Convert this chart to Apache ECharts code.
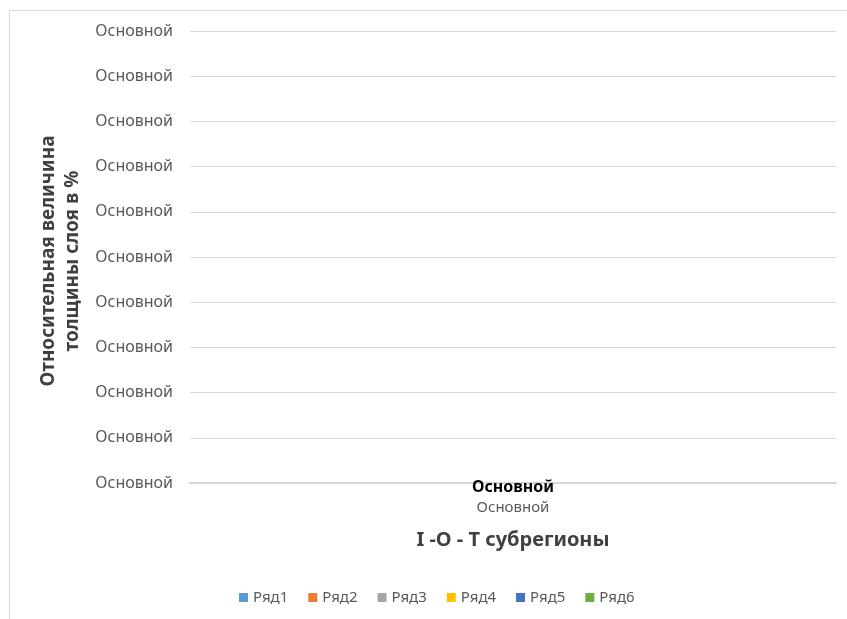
<!DOCTYPE html>
<html>
<head>
<meta charset="utf-8">
<script src="https://cdn.jsdelivr.net/npm/echarts@6/dist/echarts.min.js"></script>
<style>html,body{margin:0;padding:0;background:#fff}#c{width:847px;height:619px}</style>
</head>
<body>
<div id="c"></div>
<script>
var categories = ['Основной'];
var categorySubLabels = ['Основной'];
var yTickLabels = ['Основной','Основной','Основной','Основной','Основной','Основной','Основной','Основной','Основной','Основной','Основной'];
var seriesNames = ['Ряд1','Ряд2','Ряд3','Ряд4','Ряд5','Ряд6'];
var seriesColors = ['#5B9BD5','#ED7D31','#A5A5A5','#FFC000','#4472C4','#70AD47'];
var ряд1 = [null];
var ряд2 = [null];
var ряд3 = [null];
var ряд4 = [null];
var ряд5 = [null];
var ряд6 = [null];
var seriesValues = [ряд1, ряд2, ряд3, ряд4, ряд5, ряд6];

var FONT = '"Noto Sans", "Open Sans", sans-serif';
var chart = echarts.init(document.getElementById('c'), null, {renderer: 'canvas'});
chart.setOption({
  animation: false,
  color: seriesColors,
  textStyle: {fontFamily: FONT},
  graphic: [
    {type: 'line', shape: {x1: 9.5, y1: 10.5, x2: 847, y2: 10.5}, style: {stroke: '#d9d9d9', lineWidth: 1}},
    {type: 'line', shape: {x1: 9.5, y1: 10.5, x2: 9.5, y2: 619}, style: {stroke: '#d9d9d9', lineWidth: 1}}
  ],
  grid: {left: 190, right: 11, top: 31, bottom: 136, containLabel: false},
  legend: {
    data: seriesNames,
    left: 239, top: 590, padding: 0,
    icon: 'rect', itemWidth: 9, itemHeight: 9, itemGap: 20,
    textStyle: {fontSize: 15, color: '#595959', fontFamily: FONT}
  },
  xAxis: {
    type: 'category',
    data: categories,
    name: 'I -O - T субрегионы',
    nameLocation: 'middle',
    nameGap: 47,
    nameTextStyle: {fontSize: 20, fontWeight: 'bold', color: '#404040', fontFamily: FONT},
    axisLine: {show: true, lineStyle: {color: '#d6d6d6', width: 2}},
    axisTick: {show: false},
    axisLabel: {
      margin: -6,
      formatter: function (v, i) { return '{a|' + v + '}\n{b|' + categorySubLabels[i] + '}'; },
      rich: {
        a: {fontSize: 16, fontWeight: 'bold', color: '#000', lineHeight: 20, fontFamily: FONT},
        b: {fontSize: 15, color: '#595959', lineHeight: 21, fontFamily: FONT}
      }
    }
  },
  yAxis: {
    type: 'value',
    min: 0, max: 10, interval: 1,
    name: 'Относительная величина\nтолщины слоя в %',
    nameLocation: 'middle',
    nameRotate: 90,
    nameGap: 103,
    nameTextStyle: {fontSize: 19, fontWeight: 'bold', color: '#404040', lineHeight: 24, fontFamily: FONT, padding: [0, 8, 0, 0]},
    axisLine: {show: false},
    axisTick: {show: false},
    splitLine: {lineStyle: {color: '#d9d9d9', width: 1}},
    axisLabel: {
      margin: 17, fontSize: 16, color: '#595959', fontFamily: FONT, padding: [3, 0, 0, 0],
      formatter: function (v) { return yTickLabels[Math.round(v)]; }
    }
  },
  series: seriesNames.map(function (n, i) {
    return {name: n, type: 'bar', data: seriesValues[i]};
  })
});
</script>
</body>
</html>
